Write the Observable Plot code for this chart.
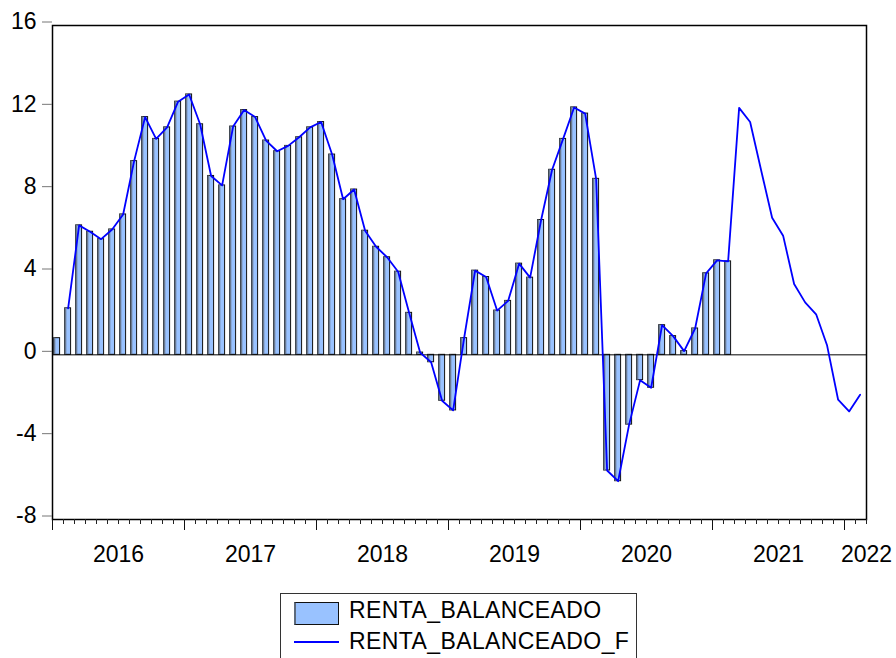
<!DOCTYPE html>
<html>
<head>
<meta charset="utf-8">
<script src="https://cdn.jsdelivr.net/npm/d3@7"></script>
<script src="https://cdn.jsdelivr.net/npm/@observablehq/plot@0.6"></script>
<style>
  html, body { margin: 0; padding: 0; background: #fff; }
  #wrap { position: relative; width: 896px; height: 658px; overflow: hidden; font-family: "Liberation Sans", Arial, sans-serif; }
  #chart svg { display: block; }
  #legend { position: absolute; left: 280px; top: 593px; width: 357px; height: 80px; border: 1px solid #333; box-sizing: border-box; }
  #legend .sw { position: absolute; left: 13px; top: 8px; width: 45px; height: 23px; background: #99c2ff; border: 1px solid #111; box-sizing: border-box; border-left: 2px solid #5d6a7c; }
  #legend .ln { position: absolute; left: 13px; top: 47px; width: 45px; height: 2px; background: #0000ff; }
  #legend .t { position: absolute; left: 68px; font-size: 23px; letter-spacing: 0.4px; color: #000; line-height: 1; white-space: nowrap; }
</style>
</head>
<body>
<div id="wrap">
  <div id="chart"></div>
  <div id="legend"></div>
</div>
<script>
// Monthly index 0 = Jan 2016
const actual = [
  0.81, 2.26, 6.29, 5.98, 5.62, 6.09, 6.82, 9.41, 11.55, 10.49, 11.05, 12.30,
  12.65, 11.20, 8.69, 8.23, 11.09, 11.89, 11.55, 10.41, 9.89, 10.15, 10.57, 11.05,
  11.31, 9.73, 7.56, 8.03, 6.03, 5.25, 4.74, 4.04, 2.04, 0.11, -0.36, -2.23,
  -2.70, 0.81, 4.09, 3.78, 2.15, 2.62, 4.43, 3.75, 6.55, 8.99, 10.49, 12.02,
  11.72, 8.55, -5.62, -6.14, -3.39, -1.23, -1.60, 1.44, 0.91, 0.18, 1.28, 3.96,
  4.59, 4.54
];
const forecast = [
  null, 2.26, 6.29, 5.98, 5.62, 6.09, 6.82, 9.41, 11.55, 10.49, 11.05, 12.30,
  12.65, 11.20, 8.69, 8.23, 11.09, 11.89, 11.55, 10.41, 9.89, 10.15, 10.57, 11.05,
  11.31, 9.73, 7.56, 8.03, 6.03, 5.25, 4.74, 4.04, 2.04, 0.11, -0.36, -2.23,
  -2.70, 0.81, 4.09, 3.78, 2.15, 2.62, 4.43, 3.75, 6.55, 8.99, 10.49, 12.02,
  11.72, 8.55, -5.62, -6.14, -3.39, -1.23, -1.60, 1.44, 0.91, 0.18, 1.28, 3.96,
  4.59, 4.54, 12.00, 11.31, 8.97, 6.66, 5.79, 3.44, 2.55, 1.97, 0.45, -2.18,
  -2.75, -1.94
];
const yearLabels = ["2016", "2017", "2018", "2019", "2020", "2021", "2022"];
const yearLabelPos = [6, 18, 30, 42, 54, 66, 74];
const yTicks = [-8, -4, 0, 4, 8, 12, 16];
const seriesNames = ["RENTA_BALANCEADO", "RENTA_BALANCEADO_F"];

const totalMonths = 74;
const barData = actual.map((v, i) => ({i, v}));
const lineData = forecast.map((v, i) => ({i, v})).filter(d => d.v !== null);

const chart = Plot.plot({
  width: 896,
  height: 580,
  marginLeft: 52,
  marginRight: 30,
  marginTop: 25,
  marginBottom: 61,
  style: {fontFamily: "'Liberation Sans', Arial, sans-serif", fontSize: "23px", background: "white", color: "black"},
  x: {type: "linear", domain: [0, totalMonths]},
  y: {domain: [-8, 16]},
  marks: [
    Plot.rectY(barData, {x1: d => d.i + 0.15, x2: d => d.i + 0.69, y: "v", fill: "#99c2ff", stroke: "#111", strokeWidth: 1}),
    Plot.rectY(barData, {x1: d => d.i + 0.15, x2: d => d.i + 0.30, y: "v", fill: "#6a7990"}),
    Plot.ruleY([0], {stroke: "black", strokeWidth: 1}),
    Plot.line(lineData, {x: d => d.i + 0.42, y: "v", stroke: "#0000ff", strokeWidth: 1.8}),
    Plot.frame({stroke: "black", strokeWidth: 1.5}),
    Plot.axisY({ticks: yTicks, tickSize: 10, tickPadding: 6, stroke: "#777", fill: "black", dy: -3.5, label: null, tickFormat: d => String(d)}),
    Plot.axisX({ticks: d3.range(0, totalMonths + 1), tickSize: 5, tickFormat: () => "", label: null, stroke: "#222"}),
    Plot.axisX({ticks: d3.range(0, totalMonths + 1, 12), tickSize: 11, tickFormat: () => "", label: null, stroke: "#111"}),
    Plot.axisX({ticks: yearLabelPos, tickSize: 0, tickPadding: 26, label: null, fill: "black",
      tickFormat: d => yearLabels[yearLabelPos.indexOf(d)]})
  ]
});
document.getElementById("chart").appendChild(chart);

const legend = document.getElementById("legend");
legend.innerHTML = `
  <div class="sw"></div>
  <div class="t" style="top:5px">${seriesNames[0]}</div>
  <div class="ln"></div>
  <div class="t" style="top:36px">${seriesNames[1]}</div>`;
</script>
</body>
</html>
